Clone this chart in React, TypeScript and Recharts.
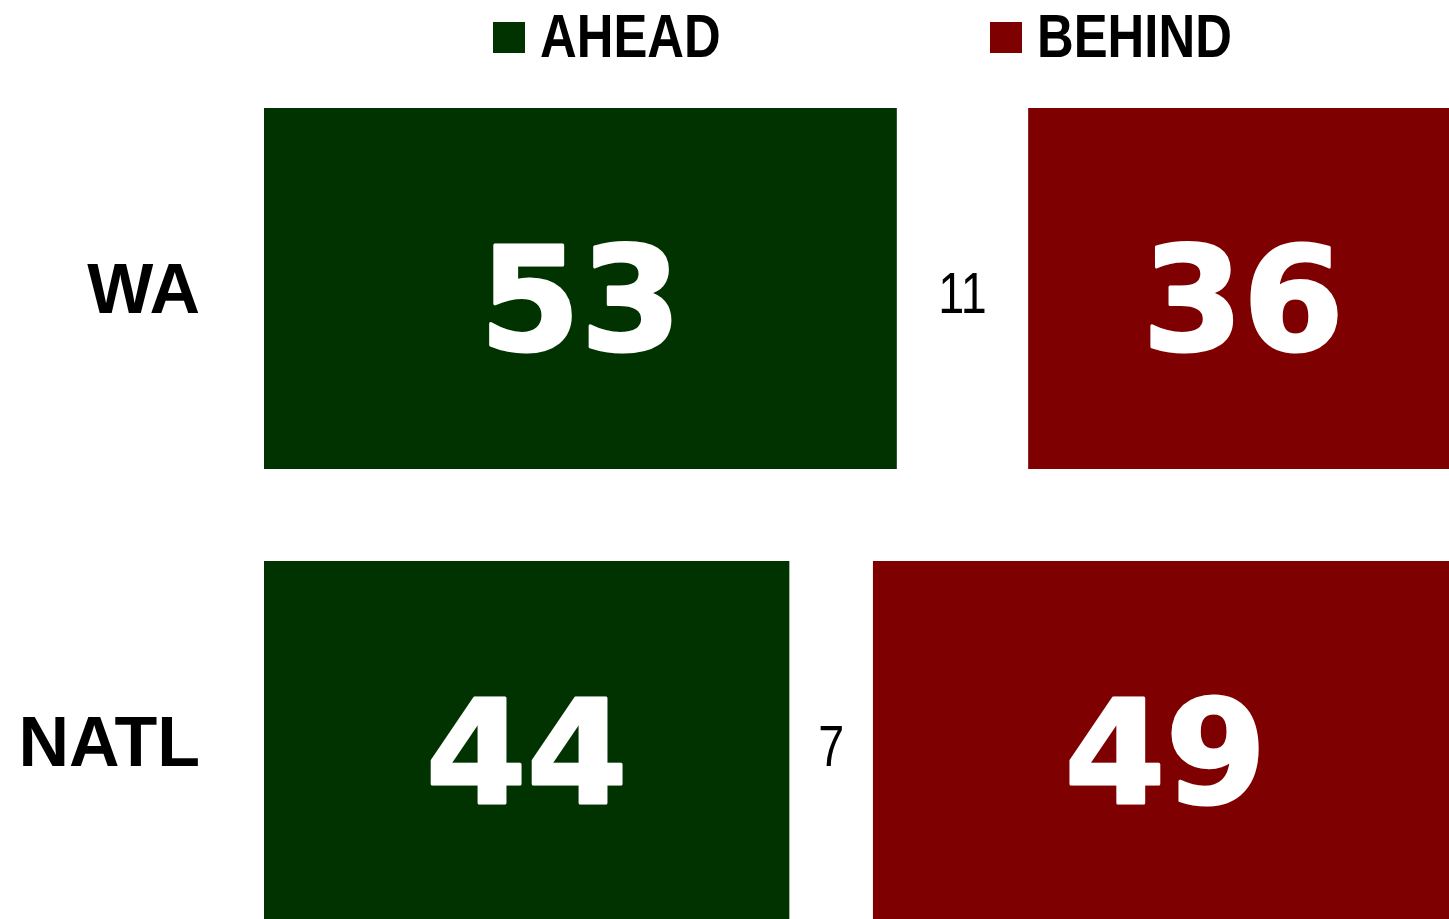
import React from 'react';
import { BarChart, Bar, XAxis, YAxis, Legend, LabelList } from 'recharts';

const categories = ['WA', 'NATL'];
const aheadValues = [53, 44];
const gapValues = [11, 7];
const behindValues = [36, 49];
const seriesNames = ['AHEAD', 'BEHIND'];

const GREEN = '#003300';
const RED = '#7f0000';

const data = categories.map((name, i) => ({
  name,
  ahead: aheadValues[i],
  gap: gapValues[i],
  behind: behindValues[i],
}));

const SANS = "'Liberation Sans', Arial, sans-serif";
const NARROW_SCALE = 0.82;
const legendX = [493, 990];

function LegendContent(props: any) {
  const items = (props.payload || []).filter((p: any) => p.type !== 'none');
  return (
    <div style={{ position: 'relative', width: 1460, height: 62 }}>
      <svg
        width={1460}
        height={90}
        style={{ position: 'absolute', top: 0, left: 0, display: 'block', overflow: 'visible' }}
      >
        {items.map((p: any, i: number) => (
          <g key={p.value}>
            <rect x={legendX[i]} y={22} width={32} height={31} fill={p.color} />
            <g transform={`translate(${legendX[i] + 47},57) scale(${NARROW_SCALE},1)`}>
              <text x={0} y={0} fontFamily={SANS} fontWeight="bold" fontSize={62} fill="#000">
                {p.value}
              </text>
            </g>
          </g>
        ))}
      </svg>
    </div>
  );
}

function CategoryTick(props: any) {
  const { x, y, payload } = props;
  return (
    <text
      x={x}
      y={y}
      dy="0.355em"
      textAnchor="end"
      fontFamily={SANS}
      fontWeight="bold"
      fontSize={70}
      fill="#000"
    >
      {payload.value}
    </text>
  );
}

function BigLabel(props: any) {
  const { x, y, width, height, value } = props;
  return (
    <text
      x={x + width / 2}
      y={y + height / 2}
      dy={61}
      textAnchor="middle"
      fontFamily="'DejaVu Sans', sans-serif"
      fontWeight="bold"
      fontSize={145}
      fill="#fff"
      stroke="#fff"
      strokeWidth={3}
      strokeLinejoin="round"
    >
      {value}
    </text>
  );
}

function GapLabel(props: any) {
  const { x, y, width, height, value } = props;
  const cx = x + width / 2;
  const cy = y + height / 2 + 24;
  return (
    <g transform={`translate(${cx},${cy}) scale(${NARROW_SCALE},1)`}>
      <text x={0} y={0} textAnchor="middle" fontFamily={SANS} fontSize={57} fill="#000">
        {value}
      </text>
    </g>
  );
}

export default function App() {
  return (
    <div style={{ width: 1449, height: 919, overflow: 'hidden', background: '#fff' }}>
      <style>{'body{margin:0;overflow:hidden;background:#fff}'}</style>
      <BarChart
        width={1460}
        height={970}
        data={data}
        layout="vertical"
        margin={{ top: 0, right: 2, bottom: 2, left: 0 }}
      >
        <XAxis type="number" domain={[0, 100]} hide />
        <YAxis
          type="category"
          dataKey="name"
          width={264}
          axisLine={false}
          tickLine={false}
          tickSize={0}
          tickMargin={64}
          tick={<CategoryTick />}
        />
        <Legend
          verticalAlign="top"
          align="left"
          height={62}
          wrapperStyle={{ top: 0, left: 0, width: 1460 }}
          content={<LegendContent />}
        />
        <Bar dataKey="ahead" name={seriesNames[0]} stackId="s" fill={GREEN} barSize={361} isAnimationActive={false}>
          <LabelList dataKey="ahead" content={<BigLabel />} />
        </Bar>
        <Bar dataKey="gap" stackId="s" fill="transparent" legendType="none" barSize={361} isAnimationActive={false}>
          <LabelList dataKey="gap" content={<GapLabel />} />
        </Bar>
        <Bar dataKey="behind" name={seriesNames[1]} stackId="s" fill={RED} barSize={361} isAnimationActive={false}>
          <LabelList dataKey="behind" content={<BigLabel />} />
        </Bar>
      </BarChart>
    </div>
  );
}
